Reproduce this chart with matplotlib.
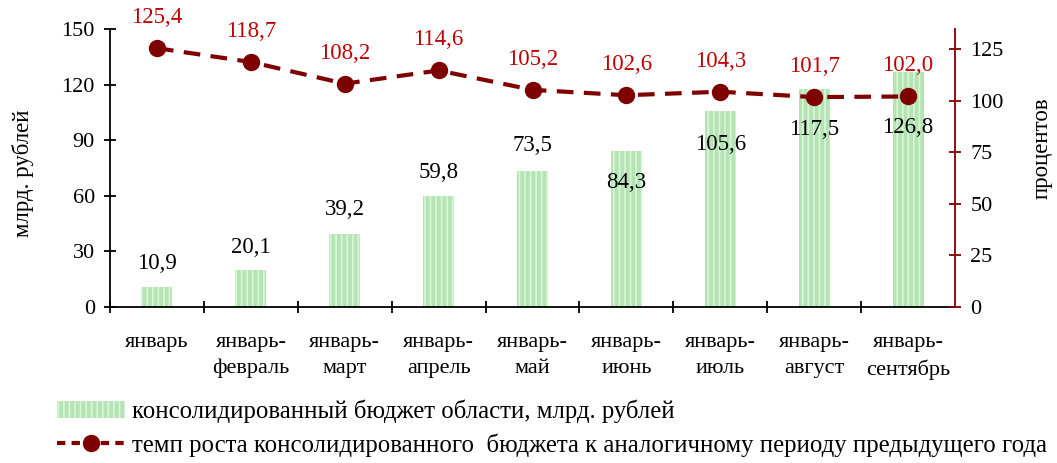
import matplotlib
matplotlib.use('Agg')
import matplotlib.pyplot as plt
from matplotlib.patches import Patch
from matplotlib.lines import Line2D

plt.rcParams['font.family'] = ['Liberation Serif', 'DejaVu Serif']
plt.rcParams['hatch.linewidth'] = 1.3

# периоды
periods = ['январь', 'январь-\nфевраль', 'январь-\nмарт', 'январь-\nапрель', 'январь-\nмай',
           'январь-\nиюнь', 'январь-\nиюль', 'январь-\nавгуст', 'январь-\nсентябрь']
# консолидированный бюджет, млрд. рублей
budget = [10.9, 20.1, 39.2, 59.8, 73.5, 84.3, 105.6, 117.5, 126.8]
# темп роста, процентов
growth = [125.4, 118.7, 108.2, 114.6, 105.2, 102.6, 104.3, 101.7, 102.0]

# сдвиг подписей столбцов (в пунктах), часть подписей опущена внутрь столбца
budget_label_offsets = [17, 16, 18, 17, 18, -23, -24, -29, -40]

dark_red = '#7f0000'
label_red = '#c00000'
bar_green = '#b6e2b6'
stripe_green = '#d4f8d4'

fig = plt.figure(figsize=(10.57, 4.63), dpi=100)
ax = fig.add_axes([0.1041, 0.337, 0.7994, 0.6004])
ax2 = ax.twinx()

x = list(range(len(periods)))
ax.bar(x, budget, width=0.33, color=bar_green, edgecolor=stripe_green, linewidth=0, hatch='|||')
for i, v in enumerate(budget):
    ax.annotate(f'{v:.1f}'.replace('.', ','), (i, v), xytext=(0, budget_label_offsets[i]),
                textcoords='offset points', ha='center', va='center', fontsize=16.5)

ax2.plot(x, growth, color=dark_red, lw=3, linestyle=(0, (4, 2.5)), marker='o', markersize=11.5)
for i, v in enumerate(growth):
    ax2.annotate(f'{v:.1f}'.replace('.', ','), (i, v), xytext=(0, 22),
                 textcoords='offset points', ha='center', va='center', fontsize=16.5, color=label_red)

# оси
ax.set_xlim(-0.5, len(periods) - 0.5)
ax.set_ylim(0, 150)
ax.set_yticks([0, 30, 60, 90, 120, 150])
ax2.set_ylim(0, 134.7)
ax2.set_yticks([0, 25, 50, 75, 100, 125])

ax.set_xticks(x)
ax.set_xticklabels(periods, fontsize=16, linespacing=1.45)
ax.set_xticks([i + 0.5 for i in x[:-1]] + [-0.5], minor=True)
ax.tick_params(axis='x', which='major', length=0, pad=19)
ax.tick_params(axis='x', which='minor', length=8, width=1.3, direction='inout')
ax.tick_params(axis='y', length=8, width=1.3, direction='inout', labelsize=16, pad=7)
ax2.tick_params(axis='y', length=8, width=1.3, direction='inout', labelsize=16, pad=7,
                color=dark_red)

for s in ['top']:
    ax.spines[s].set_visible(False)
    ax2.spines[s].set_visible(False)
ax.spines['right'].set_visible(False)
ax2.spines['left'].set_visible(False)
ax2.spines['bottom'].set_visible(False)
ax.spines['left'].set_linewidth(1.3)
ax.spines['bottom'].set_linewidth(1.3)
ax2.spines['right'].set_color(dark_red)
ax2.spines['right'].set_linewidth(1.3)

ax.set_ylabel('млрд. рублей', fontsize=16.5)
ax.yaxis.set_label_coords(-0.09, 0.48)
ax2.set_ylabel('процентов', fontsize=16.5, rotation=90)
ax2.yaxis.set_label_coords(1.091, 0.57)

handles = [
    Patch(facecolor=bar_green, edgecolor=stripe_green, linewidth=0, hatch='|||'),
    Line2D([0], [0], color=dark_red, lw=3, linestyle=(0, (2, 1.5)), marker='o', markersize=11.5),
]
labels = ['консолидированный бюджет области, млрд. рублей',
          'темп роста консолидированного  бюджета к аналогичному периоду предыдущего года']
fig.legend(handles, labels, loc='upper left', bbox_to_anchor=(0.054, 0.137), frameon=False,
           fontsize=17.8, handlelength=2.75, handletextpad=0.3, labelspacing=0.42,
           borderaxespad=0, borderpad=0)

plt.savefig('out.png', dpi=100)
